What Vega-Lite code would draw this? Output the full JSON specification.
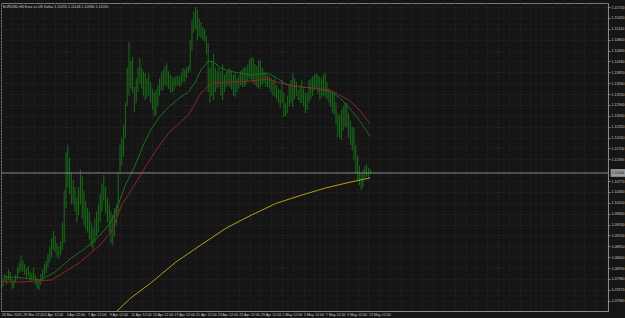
{
  "$schema": "https://vega.github.io/schema/vega-lite/v6.json",
  "width": 607,
  "height": 308,
  "autosize": {"type": "none"},
  "padding": {"left": 1, "top": 3, "right": 17, "bottom": 7},
  "background": "#151515",
  "title": {"text": "EURUSD,H4  Euro vs US Dollar  1.11055 1.11148 1.10980 1.11050", "anchor": "start", "frame": "group", "offset": -6, "fontSize": 3.6, "fontWeight": "normal", "font": "Liberation Sans", "color": "#c8c8c8", "dx": 2},
  "config": {
    "view": {"stroke": "#7a7a7a", "strokeWidth": 1, "fill": "#151515"},
    "axis": {"labelFont": "Liberation Sans", "labelFontSize": 3.6, "labelColor": "#c8c8c8", "domainColor": "#8a8a8a", "tickColor": "#8a8a8a", "gridColor": "#2a2a2a", "gridDash": [1, 2], "gridWidth": 1, "title": null}
  },
  "datasets": {
    "bars": [
      {"i":0,"v":1.0800,"l":1.0775},{"i":1,"v":1.0812,"l":1.0790},{"i":2,"v":1.0805,"l":1.0782},{"i":3,"v":1.0826,"l":1.0795},{"i":4,"v":1.0818,"l":1.0790},{"i":5,"v":1.0800,"l":1.0770},
      {"i":6,"v":1.0795,"l":1.0772},{"i":7,"v":1.0810,"l":1.0788},{"i":8,"v":1.0830,"l":1.0800},{"i":9,"v":1.0845,"l":1.0815},{"i":10,"v":1.0866,"l":1.0820},{"i":11,"v":1.0850,"l":1.0818},
      {"i":12,"v":1.0840,"l":1.0810},{"i":13,"v":1.0828,"l":1.0800},{"i":14,"v":1.0835,"l":1.0805},{"i":15,"v":1.0820,"l":1.0795},{"i":16,"v":1.0815,"l":1.0790},{"i":17,"v":1.0830,"l":1.0800},
      {"i":18,"v":1.0810,"l":1.0782},{"i":19,"v":1.0800,"l":1.0770},{"i":20,"v":1.0795,"l":1.0766},{"i":21,"v":1.0812,"l":1.0780},{"i":22,"v":1.0825,"l":1.0795},{"i":23,"v":1.0840,"l":1.0805},
      {"i":24,"v":1.0850,"l":1.0815},{"i":25,"v":1.0870,"l":1.0830},{"i":26,"v":1.0890,"l":1.0845},{"i":27,"v":1.0915,"l":1.0860},{"i":28,"v":1.0935,"l":1.0880},{"i":29,"v":1.0920,"l":1.0875},
      {"i":30,"v":1.0900,"l":1.0860},{"i":31,"v":1.0890,"l":1.0855},{"i":32,"v":1.0905,"l":1.0865},{"i":33,"v":1.0960,"l":1.0880},{"i":34,"v":1.1050,"l":1.0900},{"i":35,"v":1.1160,"l":1.1000},
      {"i":36,"v":1.1180,"l":1.1060},{"i":37,"v":1.1144,"l":1.1040},{"i":38,"v":1.1100,"l":1.1010},{"i":39,"v":1.1080,"l":1.1010},{"i":40,"v":1.1060,"l":1.0990},{"i":41,"v":1.1030,"l":1.0960},
      {"i":42,"v":1.1060,"l":1.0980},{"i":43,"v":1.1110,"l":1.1010},{"i":44,"v":1.1090,"l":1.0970},{"i":45,"v":1.1050,"l":1.0950},{"i":46,"v":1.1020,"l":1.0940},{"i":47,"v":1.1000,"l":1.0930},
      {"i":48,"v":1.0990,"l":1.0910},{"i":49,"v":1.0960,"l":1.0890},{"i":50,"v":1.0945,"l":1.0880},{"i":51,"v":1.0970,"l":1.0900},{"i":52,"v":1.0990,"l":1.0920},{"i":53,"v":1.1010,"l":1.0930},
      {"i":54,"v":1.1040,"l":1.0960},{"i":55,"v":1.1070,"l":1.0990},{"i":56,"v":1.1095,"l":1.1020},{"i":57,"v":1.1060,"l":1.0985},{"i":58,"v":1.1030,"l":1.0960},{"i":59,"v":1.1010,"l":1.0930},
      {"i":60,"v":1.0990,"l":1.0900},{"i":61,"v":1.0980,"l":1.0895},{"i":62,"v":1.1000,"l":1.0920},{"i":63,"v":1.1010,"l":1.0950},{"i":64,"v":1.1100,"l":1.0980},{"i":65,"v":1.1180,"l":1.1100},
      {"i":66,"v":1.1200,"l":1.1120},{"i":67,"v":1.1237,"l":1.1146},{"i":68,"v":1.1300,"l":1.1200},{"i":69,"v":1.1400,"l":1.1290},{"i":70,"v":1.1473,"l":1.1320},{"i":71,"v":1.1420,"l":1.1340},
      {"i":72,"v":1.1431,"l":1.1328},{"i":73,"v":1.1345,"l":1.1274},{"i":74,"v":1.1370,"l":1.1300},{"i":75,"v":1.1400,"l":1.1330},{"i":76,"v":1.1428,"l":1.1356},{"i":77,"v":1.1400,"l":1.1340},
      {"i":78,"v":1.1390,"l":1.1320},{"i":79,"v":1.1385,"l":1.1308},{"i":80,"v":1.1370,"l":1.1315},{"i":81,"v":1.1385,"l":1.1320},{"i":82,"v":1.1360,"l":1.1300},{"i":83,"v":1.1340,"l":1.1280},
      {"i":84,"v":1.1330,"l":1.1262},{"i":85,"v":1.1337,"l":1.1265},{"i":86,"v":1.1350,"l":1.1290},{"i":87,"v":1.1370,"l":1.1320},{"i":88,"v":1.1385,"l":1.1335},{"i":89,"v":1.1394,"l":1.1337},
      {"i":90,"v":1.1405,"l":1.1350},{"i":91,"v":1.1413,"l":1.1345},{"i":92,"v":1.1390,"l":1.1340},{"i":93,"v":1.1380,"l":1.1330},{"i":94,"v":1.1374,"l":1.1328},{"i":95,"v":1.1370,"l":1.1335},
      {"i":96,"v":1.1375,"l":1.1345},{"i":97,"v":1.1379,"l":1.1350},{"i":98,"v":1.1375,"l":1.1345},{"i":99,"v":1.1385,"l":1.1350},{"i":100,"v":1.1399,"l":1.1359},{"i":101,"v":1.1395,"l":1.1360},
      {"i":102,"v":1.1400,"l":1.1370},{"i":103,"v":1.1405,"l":1.1385},{"i":104,"v":1.1480,"l":1.1390},{"i":105,"v":1.1536,"l":1.1450},{"i":106,"v":1.1560,"l":1.1500},{"i":107,"v":1.1573,"l":1.1510},
      {"i":108,"v":1.1565,"l":1.1479},{"i":109,"v":1.1540,"l":1.1490},{"i":110,"v":1.1530,"l":1.1485},{"i":111,"v":1.1516,"l":1.1479},{"i":112,"v":1.1510,"l":1.1475},{"i":113,"v":1.1490,"l":1.1440},
      {"i":114,"v":1.1470,"l":1.1330},{"i":115,"v":1.1400,"l":1.1300},{"i":116,"v":1.1420,"l":1.1320},{"i":117,"v":1.1440,"l":1.1308},{"i":118,"v":1.1400,"l":1.1330},{"i":119,"v":1.1390,"l":1.1340},
      {"i":120,"v":1.1400,"l":1.1345},{"i":121,"v":1.1390,"l":1.1320},{"i":122,"v":1.1410,"l":1.1308},{"i":123,"v":1.1380,"l":1.1330},{"i":124,"v":1.1390,"l":1.1345},{"i":125,"v":1.1395,"l":1.1350},
      {"i":126,"v":1.1398,"l":1.1345},{"i":127,"v":1.1390,"l":1.1337},{"i":128,"v":1.1380,"l":1.1320},{"i":129,"v":1.1385,"l":1.1317},{"i":130,"v":1.1370,"l":1.1330},{"i":131,"v":1.1380,"l":1.1340},
      {"i":132,"v":1.1390,"l":1.1350},{"i":133,"v":1.1395,"l":1.1345},{"i":134,"v":1.1402,"l":1.1345},{"i":135,"v":1.1400,"l":1.1350},{"i":136,"v":1.1410,"l":1.1360},{"i":137,"v":1.1425,"l":1.1370},
      {"i":138,"v":1.1430,"l":1.1362},{"i":139,"v":1.1428,"l":1.1356},{"i":140,"v":1.1410,"l":1.1350},{"i":141,"v":1.1405,"l":1.1345},{"i":142,"v":1.1420,"l":1.1340},{"i":143,"v":1.1422,"l":1.1345},
      {"i":144,"v":1.1400,"l":1.1350},{"i":145,"v":1.1390,"l":1.1355},{"i":146,"v":1.1385,"l":1.1345},{"i":147,"v":1.1380,"l":1.1345},{"i":148,"v":1.1375,"l":1.1340},{"i":149,"v":1.1370,"l":1.1330},
      {"i":150,"v":1.1365,"l":1.1320},{"i":151,"v":1.1370,"l":1.1317},{"i":152,"v":1.1350,"l":1.1310},{"i":153,"v":1.1340,"l":1.1300},{"i":154,"v":1.1336,"l":1.1285},{"i":155,"v":1.1365,"l":1.1299},
      {"i":156,"v":1.1330,"l":1.1260},{"i":157,"v":1.1300,"l":1.1262},{"i":158,"v":1.1320,"l":1.1270},{"i":159,"v":1.1350,"l":1.1290},{"i":160,"v":1.1365,"l":1.1299},{"i":161,"v":1.1385,"l":1.1288},
      {"i":162,"v":1.1370,"l":1.1310},{"i":163,"v":1.1360,"l":1.1320},{"i":164,"v":1.1336,"l":1.1308},{"i":165,"v":1.1350,"l":1.1300},{"i":166,"v":1.1365,"l":1.1299},{"i":167,"v":1.1340,"l":1.1290},
      {"i":168,"v":1.1328,"l":1.1271},{"i":169,"v":1.1330,"l":1.1280},{"i":170,"v":1.1365,"l":1.1300},{"i":171,"v":1.1370,"l":1.1310},{"i":172,"v":1.1375,"l":1.1320},{"i":173,"v":1.1380,"l":1.1334},
      {"i":174,"v":1.1385,"l":1.1340},{"i":175,"v":1.1380,"l":1.1325},{"i":176,"v":1.1374,"l":1.1308},{"i":177,"v":1.1370,"l":1.1315},{"i":178,"v":1.1380,"l":1.1320},{"i":179,"v":1.1385,"l":1.1317},
      {"i":180,"v":1.1360,"l":1.1310},{"i":181,"v":1.1340,"l":1.1300},{"i":182,"v":1.1328,"l":1.1288},{"i":183,"v":1.1330,"l":1.1271},{"i":184,"v":1.1328,"l":1.1265},{"i":185,"v":1.1300,"l":1.1240},
      {"i":186,"v":1.1271,"l":1.1203},{"i":187,"v":1.1265,"l":1.1200},{"i":188,"v":1.1280,"l":1.1194},{"i":189,"v":1.1290,"l":1.1220},{"i":190,"v":1.1300,"l":1.1230},{"i":191,"v":1.1299,"l":1.1231},
      {"i":192,"v":1.1270,"l":1.1200},{"i":193,"v":1.1250,"l":1.1180},{"i":194,"v":1.1231,"l":1.1165},{"i":195,"v":1.1231,"l":1.1137},{"i":196,"v":1.1180,"l":1.1100},{"i":197,"v":1.1150,"l":1.1080},
      {"i":198,"v":1.1120,"l":1.1065},{"i":199,"v":1.1100,"l":1.1051},{"i":200,"v":1.1110,"l":1.1060},{"i":201,"v":1.1120,"l":1.1085},{"i":202,"v":1.1125,"l":1.1090},{"i":203,"v":1.1115,"l":1.1085},
      {"i":204,"v":1.1112,"l":1.1095}
    ],
    "ma": [
      {"s":"g","i":0,"v":1.0805},{"s":"g","i":10,"v":1.0801},{"s":"g","i":21,"v":1.0795},{"s":"g","i":29,"v":1.0818},{"s":"g","i":38,"v":1.0858},{"s":"g","i":46,"v":1.0886},{"s":"g","i":54,"v":1.0923},{"s":"g","i":60,"v":1.0960},{"s":"g","i":64,"v":1.1009},{"s":"g","i":68,"v":1.1066},{"s":"g","i":73,"v":1.1117},{"s":"g","i":78,"v":1.1180},{"s":"g","i":82,"v":1.1222},{"s":"g","i":87,"v":1.1260},{"s":"g","i":92,"v":1.1288},{"s":"g","i":97,"v":1.1310},{"s":"g","i":103,"v":1.1331},{"s":"g","i":107,"v":1.1360},{"s":"g","i":110,"v":1.1394},{"s":"g","i":114,"v":1.1419},{"s":"g","i":117,"v":1.1416},{"s":"g","i":121,"v":1.1399},{"s":"g","i":128,"v":1.1388},{"s":"g","i":138,"v":1.1379},{"s":"g","i":147,"v":1.1385},{"s":"g","i":151,"v":1.1374},{"s":"g","i":158,"v":1.1351},{"s":"g","i":166,"v":1.1345},{"s":"g","i":173,"v":1.1342},{"s":"g","i":182,"v":1.1331},{"s":"g","i":187,"v":1.1315},{"s":"g","i":192,"v":1.1288},{"s":"g","i":198,"v":1.1250},{"s":"g","i":204,"v":1.1205},
      {"s":"r","i":0,"v":1.0790},{"s":"r","i":10,"v":1.0789},{"s":"r","i":27,"v":1.0795},{"s":"r","i":43,"v":1.0846},{"s":"r","i":54,"v":1.0895},{"s":"r","i":60,"v":1.0932},{"s":"r","i":66,"v":1.1009},{"s":"r","i":72,"v":1.1057},{"s":"r","i":78,"v":1.1108},{"s":"r","i":85,"v":1.1165},{"s":"r","i":92,"v":1.1214},{"s":"r","i":103,"v":1.1265},{"s":"r","i":110,"v":1.1328},{"s":"r","i":116,"v":1.1356},{"s":"r","i":125,"v":1.1359},{"s":"r","i":138,"v":1.1362},{"s":"r","i":147,"v":1.1368},{"s":"r","i":154,"v":1.1356},{"s":"r","i":166,"v":1.1345},{"s":"r","i":182,"v":1.1336},{"s":"r","i":192,"v":1.1308},{"s":"r","i":198,"v":1.1280},{"s":"r","i":204,"v":1.1240},
      {"s":"y","i":62,"v":1.0700},{"s":"y","i":71,"v":1.0744},{"s":"y","i":82,"v":1.0786},{"s":"y","i":96,"v":1.0846},{"s":"y","i":110,"v":1.0895},{"s":"y","i":124,"v":1.0943},{"s":"y","i":138,"v":1.0980},{"s":"y","i":152,"v":1.1014},{"s":"y","i":166,"v":1.1037},{"s":"y","i":179,"v":1.1057},{"s":"y","i":193,"v":1.1074},{"s":"y","i":204,"v":1.1086}
    ]
  },
  "encoding": {
    "x": {"field": "i", "type": "quantitative",
      "scale": {"domain": [-1.111, 336.111], "nice": false, "zero": false},
      "axis": {"orient": "bottom", "grid": true, "ticks": false, "labelAlign": "left", "labelPadding": 1.5, "labelFlush": false, "labelOverlap": false, "labelBound": false,
        "values": [-1,5,11,17,23,29,35,41,47,53,59,65,71,77,83,89,95,101,107,113,119,125,131,137,143,149,155,161,167,173,179,185,191,197,203,209,215,221,227,233,239,245,251,257,263,269,275,281,287,293,299,305,311,317,323,329,335],
        "labelExpr": "(datum.value+1)%12==0 ? (['26 Mar 2025','28 Mar 12:00','1 Apr 12:00','3 Apr 12:00','7 Apr 12:00','9 Apr 12:00','11 Apr 12:00','15 Apr 12:00','17 Apr 12:00','21 Apr 12:00','23 Apr 12:00','25 Apr 12:00','29 Apr 12:00','1 May 12:00','5 May 12:00','7 May 12:00','9 May 12:00','13 May 12:00'][(datum.value+1)/12] || '') : ''"}},
    "y": {"field": "v", "type": "quantitative",
      "scale": {"domain": [1.07066, 1.15845], "nice": false, "zero": false},
      "axis": {"orient": "right", "grid": true, "tickSize": 2, "labelPadding": 1, "format": ".5f", "labelOverlap": false, "labelFlush": false,
        "values": [1.1573,1.1542,1.1511,1.1480,1.1449,1.1418,1.1387,1.1356,1.1325,1.1294,1.1263,1.1232,1.1201,1.1170,1.1139,1.1077,1.1046,1.1015,1.0984,1.0953,1.0922,1.0891,1.0860,1.0829,1.0798,1.0767,1.0736]}}
  },
  "layer": [
    {"data": {"name": "bars"}, "mark": {"type": "rule", "color": "#197819", "strokeWidth": 0.9}, "encoding": {"y2": {"field": "l"}}},
    {"data": {"name": "ma"}, "mark": {"type": "line", "strokeWidth": 1, "clip": true}, "encoding": {"color": {"field": "s", "type": "nominal", "scale": {"domain": ["g", "r", "y"], "range": ["#1d6e1d", "#8e2236", "#b89a1c"]}, "legend": null}}},
    {"data": {"values": [{"i": -1.111, "i2": 336.111, "v": 1.1100}]}, "mark": {"type": "rule", "color": "#8a8a8a", "strokeWidth": 1}, "encoding": {"x2": {"field": "i2"}}},
    {"data": {"values": [{"i": 337.6, "i2": 346.0, "v": 1.1111, "v2": 1.1089}]}, "mark": {"type": "rect", "color": "#9a9a9a"}, "encoding": {"x2": {"field": "i2"}, "y2": {"field": "v2"}}},
    {"data": {"values": [{"i": 338.0, "v": 1.1100, "t": "1.11000"}]}, "mark": {"type": "text", "align": "left", "baseline": "middle", "fontSize": 3.6, "font": "Liberation Sans", "color": "#111111"}, "encoding": {"text": {"field": "t"}}}
  ]
}
